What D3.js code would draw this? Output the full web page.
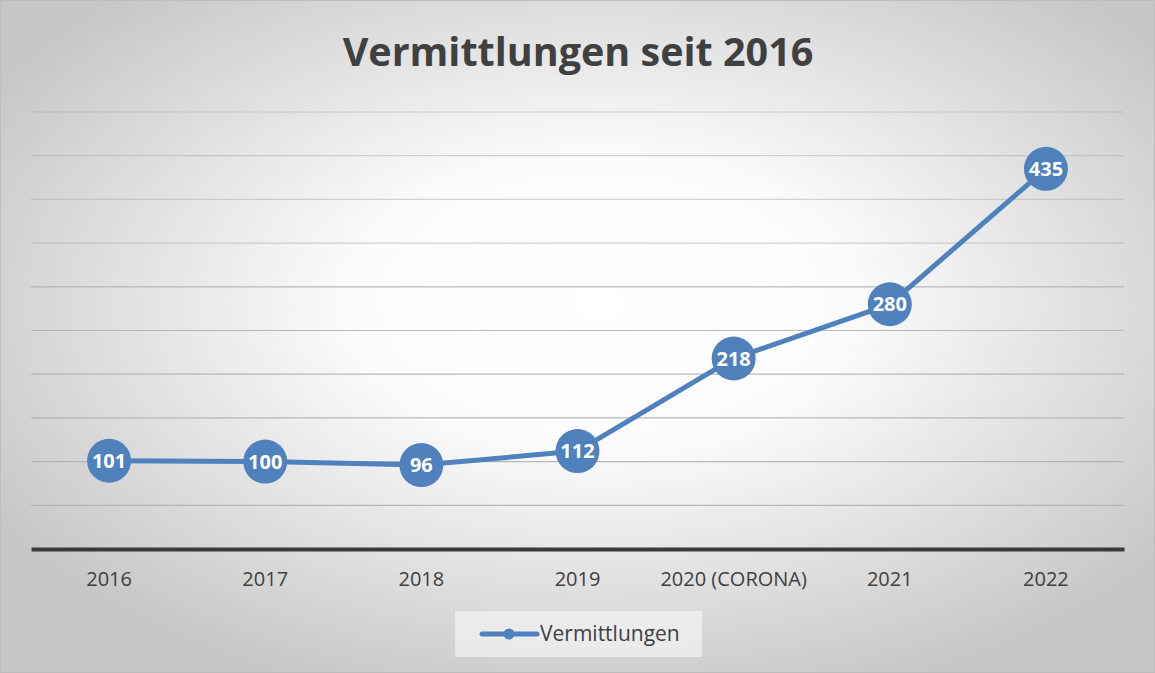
<!DOCTYPE html>
<html>
<head>
<meta charset="utf-8">
<script src="https://cdn.jsdelivr.net/npm/d3@7"></script>
<style>
  body { margin: 0; background: #fff; }
  svg { display: block; }
</style>
</head>
<body>
<svg width="1155" height="673"></svg>
<script>
const years = ['2016', '2017', '2018', '2019', '2020 (CORONA)', '2021', '2022']
const counts = [101, 100, 96, 112, 218, 280, 435]
const yTicks = [50, 100, 150, 200, 250, 300, 350, 400, 450, 500]
const seriesName = 'Vermittlungen'
const title = 'Vermittlungen seit 2016'

const width = 1155
const height = 673
const font = "'Open Sans', 'Liberation Sans', sans-serif"
const blue = '#4f81bd'

const svg = d3.select('svg')

// background gradient, white in the middle fading out to grey
const defs = svg.append('defs')
const grad = defs.append('radialGradient')
  .attr('id', 'bg')
  .attr('cx', '52%').attr('cy', '45%').attr('r', '62%')
grad.append('stop').attr('offset', '0%').attr('stop-color', '#ffffff')
grad.append('stop').attr('offset', '35%').attr('stop-color', '#fbfbfb')
grad.append('stop').attr('offset', '100%').attr('stop-color', '#c6c6c6')

svg.append('rect')
  .attr('x', 0.5).attr('y', 0.5)
  .attr('width', width - 1).attr('height', height - 1)
  .attr('fill', 'url(#bg)')
  .attr('stroke', '#bdbdbd')

svg.append('text')
  .attr('x', 578).attr('y', 66)
  .attr('text-anchor', 'middle')
  .attr('font-family', font)
  .attr('font-weight', 700)
  .attr('font-size', 39.5)
  .attr('fill', '#404040')
  .text(title)

const x = d3.scaleBand().domain(years).range([31, 1124])
const y = d3.scaleLinear().domain([0, 500]).range([549, 112])

// gridlines
svg.append('g')
  .selectAll('line')
  .data(yTicks)
  .join('line')
  .attr('x1', 31).attr('x2', 1124)
  .attr('y1', (d) => y(d)).attr('y2', (d) => y(d))
  .attr('stroke', '#b0b0b0')
  .attr('stroke-opacity', (d) => (d > 300 ? 0.55 : 0.9))
  .attr('stroke-width', 1.2)

// axis
const xAxis = svg.append('g')
  .attr('transform', `translate(0,${y(0)})`)
  .call(d3.axisBottom(x).tickSize(0).tickPadding(23))
xAxis.select('.domain').attr('stroke', '#3a3a3a').attr('stroke-width', 4)
xAxis.selectAll('text')
  .attr('font-family', font)
  .attr('font-size', 20)
  .attr('fill', '#404040')

const cx = (d, i) => x(years[i]) + x.bandwidth() / 2

const line = d3.line()
  .x((d, i) => cx(d, i))
  .y((d) => y(d))

svg.append('path')
  .attr('d', line(counts))
  .attr('fill', 'none')
  .attr('stroke', blue)
  .attr('stroke-width', 5)
  .attr('stroke-linejoin', 'round')

const pts = svg.append('g')
  .selectAll('g')
  .data(counts)
  .join('g')
  .attr('transform', (d, i) => `translate(${cx(d, i)},${y(d)})`)
pts.append('circle')
  .attr('r', 22)
  .attr('fill', blue)
pts.append('text')
  .attr('text-anchor', 'middle')
  .attr('dy', '0.36em')
  .attr('font-family', font)
  .attr('font-weight', 700)
  .attr('font-size', 20)
  .attr('fill', '#fff')
  .text((d) => d)

// legend
const lg = svg.append('g')
lg.append('rect')
  .attr('x', 455).attr('y', 611)
  .attr('width', 247).attr('height', 46)
  .attr('fill', '#f3f3f3')
  .attr('fill-opacity', 0.7)
lg.append('line')
  .attr('x1', 482).attr('x2', 537)
  .attr('y1', 634).attr('y2', 634)
  .attr('stroke', blue)
  .attr('stroke-width', 5)
  .attr('stroke-linecap', 'round')
lg.append('circle')
  .attr('cx', 509).attr('cy', 634).attr('r', 5.5)
  .attr('fill', blue)
lg.append('text')
  .attr('x', 540).attr('y', 641)
  .attr('font-family', font)
  .attr('font-size', 21)
  .attr('fill', '#404040')
  .text(seriesName)
</script>
</body>
</html>
